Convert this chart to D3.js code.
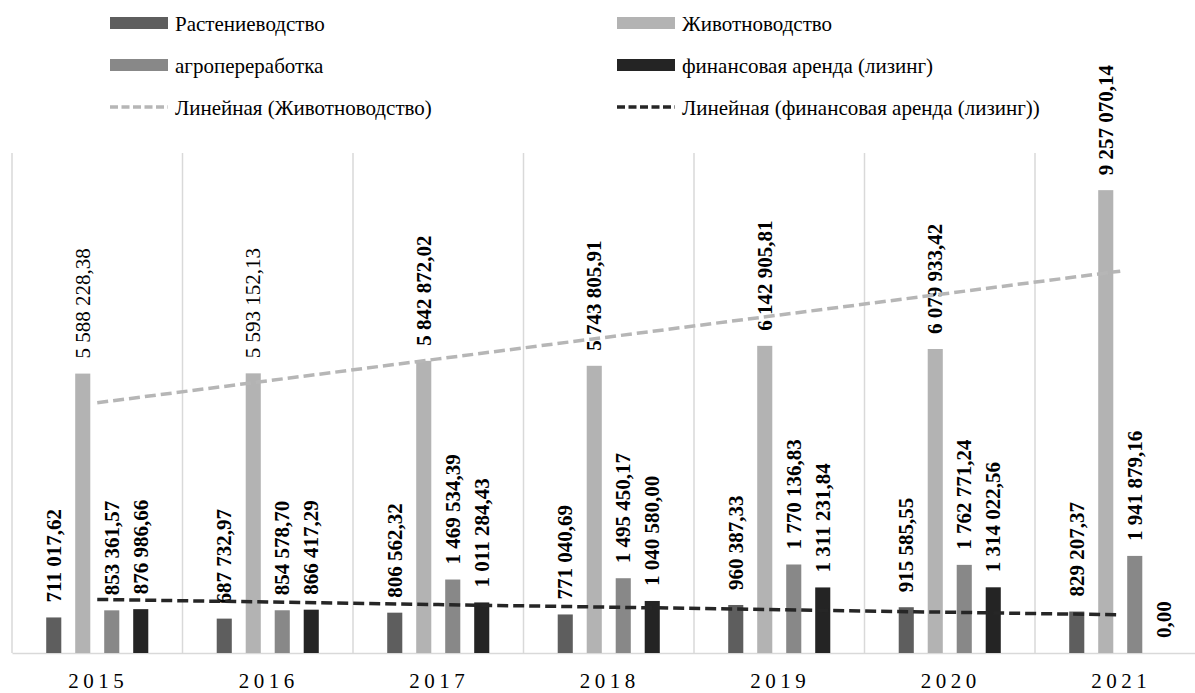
<!DOCTYPE html>
<html lang="ru">
<head>
<meta charset="utf-8">
<title>chart</title>
<script src="https://d3js.org/d3.v7.min.js"></script>
<style>
  body { margin: 0; background: #fff; }
</style>
</head>
<body>
<div id="chart"></div>
<script>
// data
const years = ["2015", "2016", "2017", "2018", "2019", "2020", "2021"];
const seriesNames = ["Растениеводство", "Животноводство", "агропереработка", "финансовая аренда (лизинг)"];
const rastenievodstvo = [711017.62, 687732.97, 806562.32, 771040.69, 960387.33, 915585.55, 829207.37];
const zhivotnovodstvo = [5588228.38, 5593152.13, 5842872.02, 5743805.91, 6142905.81, 6079933.42, 9257070.14];
const agropererabotka = [853361.57, 854578.70, 1469534.39, 1495450.17, 1770136.83, 1762771.24, 1941879.16];
const lizing = [876986.66, 866417.29, 1011284.43, 1040580.00, 1311231.84, 1314022.56, 0.00];
const trendNames = ["Линейная (Животноводство)", "Линейная (финансовая аренда (лизинг))"];

const allValues = [rastenievodstvo, zhivotnovodstvo, agropererabotka, lizing];
const colors = ["#5e5e5e", "#b3b3b3", "#888888", "#242424"];
const FONT = "'Liberation Serif', 'Times New Roman', 'DejaVu Serif', serif";

const W = 1195, H = 693;
const plot = {left: 12, right: 1205.5, top: 153, bottom: 653};

const svg = d3.select("#chart").append("svg")
  .attr("width", W).attr("height", H)
  .attr("font-family", FONT);

const x0 = d3.scaleBand().domain(years).range([plot.left, plot.right]).padding(0);
const x1 = d3.scaleBand().domain(d3.range(4)).range([0, x0.bandwidth()])
  .paddingInner(0.48).paddingOuter(1.18);
const y = d3.scaleLinear().domain([0, 10000000]).range([plot.bottom, plot.top]);

const ru = d3.formatLocale({decimal: ",", thousands: " ", grouping: [3], currency: ["", ""]});
const fmt = ru.format(",.2f");

// vertical category gridlines
svg.append("g").selectAll("line")
  .data(years)
  .join("line")
  .attr("x1", d => x0(d)).attr("x2", d => x0(d))
  .attr("y1", plot.top).attr("y2", plot.bottom)
  .attr("stroke", "#d9d9d9").attr("stroke-width", 1.5);

// bottom axis
const xAxis = svg.append("g")
  .attr("transform", `translate(0,${plot.bottom})`)
  .call(d3.axisBottom(x0).tickSize(0).tickPadding(0))
  .attr("font-family", FONT);
xAxis.select(".domain").attr("stroke", "#d9d9d9").attr("stroke-width", 1.5);
xAxis.selectAll("text")
  .attr("y", 35)
  .attr("dy", 0)
  .attr("dx", 1)
  .attr("font-family", FONT)
  .attr("font-size", 21)
  .style("letter-spacing", "4.5px")
  .attr("fill", "#000");

// bars
const groups = svg.append("g").selectAll("g")
  .data(allValues)
  .join("g")
  .attr("fill", (d, i) => colors[i]);

groups.each(function(vals, si) {
  d3.select(this).selectAll("rect")
    .data(vals)
    .join("rect")
    .attr("x", (v, i) => x0(years[i]) + x1(si))
    .attr("width", x1.bandwidth())
    .attr("y", v => y(v))
    .attr("height", v => y(0) - y(v));
});

// linear trendlines (least squares over category index)
function trend(vals) {
  const n = vals.length;
  const xs = d3.range(1, n + 1);
  const mx = d3.mean(xs), my = d3.mean(vals);
  const b = d3.sum(xs, (xv, i) => (xv - mx) * (vals[i] - my)) / d3.sum(xs, xv => (xv - mx) ** 2);
  const a = my - b * mx;
  return xs.map(xv => a + b * xv);
}
const trends = [
  {vals: trend(zhivotnovodstvo), color: "#b6b6b6"},
  {vals: trend(lizing), color: "#262626"}
];
const line = d3.line()
  .x(p => x0(p[0]) + x0.bandwidth() / 2)
  .y(p => y(p[1]));
svg.append("g").selectAll("path")
  .data(trends)
  .join("path")
  .attr("d", t => line(t.vals.map((v, i) => [years[i], v])))
  .attr("fill", "none")
  .attr("stroke", t => t.color)
  .attr("stroke-width", 3.5)
  .attr("stroke-dasharray", "11,5");

// data labels
groups.each(function(vals, si) {
  d3.select(this).selectAll("text")
    .data(vals)
    .join("text")
    .attr("transform", (v, i) => {
      const cx = x0(years[i]) + x1(si) + x1.bandwidth() / 2;
      return `translate(${cx + 7},${y(v) - 15}) rotate(-90)`;
    })
    .attr("fill", "#000")
    .attr("font-family", FONT)
    .attr("font-size", 21)
    .attr("font-weight", (v, i) => (si === 1 && i < 2) ? "normal" : "bold")
    .text(v => fmt(v));
});

// legend
const legendItems = [
  {name: seriesNames[0], kind: "rect", color: colors[0], col: 0, row: 0},
  {name: seriesNames[1], kind: "rect", color: colors[1], col: 1, row: 0},
  {name: seriesNames[2], kind: "rect", color: colors[2], col: 0, row: 1},
  {name: seriesNames[3], kind: "rect", color: colors[3], col: 1, row: 1},
  {name: trendNames[0], kind: "dash", color: "#b6b6b6", col: 0, row: 2},
  {name: trendNames[1], kind: "dash", color: "#262626", col: 1, row: 2}
];
const colX = [110, 617];
const rowY = [23, 65, 107];
const lg = svg.append("g").selectAll("g")
  .data(legendItems)
  .join("g")
  .attr("transform", d => `translate(${colX[d.col]},${rowY[d.row]})`);
lg.filter(d => d.kind === "rect").append("rect")
  .attr("x", 0).attr("y", -6).attr("width", 58).attr("height", 12)
  .attr("fill", d => d.color);
lg.filter(d => d.kind === "dash").append("line")
  .attr("x1", 0).attr("x2", 58).attr("y1", 0).attr("y2", 0)
  .attr("stroke", d => d.color).attr("stroke-width", 3.5)
  .attr("stroke-dasharray", "8,3.5");
lg.append("text")
  .attr("x", 65).attr("y", 8)
  .attr("font-family", FONT)
  .attr("font-size", 21)
  .attr("fill", "#000")
  .text(d => d.name);
</script>
</body>
</html>
